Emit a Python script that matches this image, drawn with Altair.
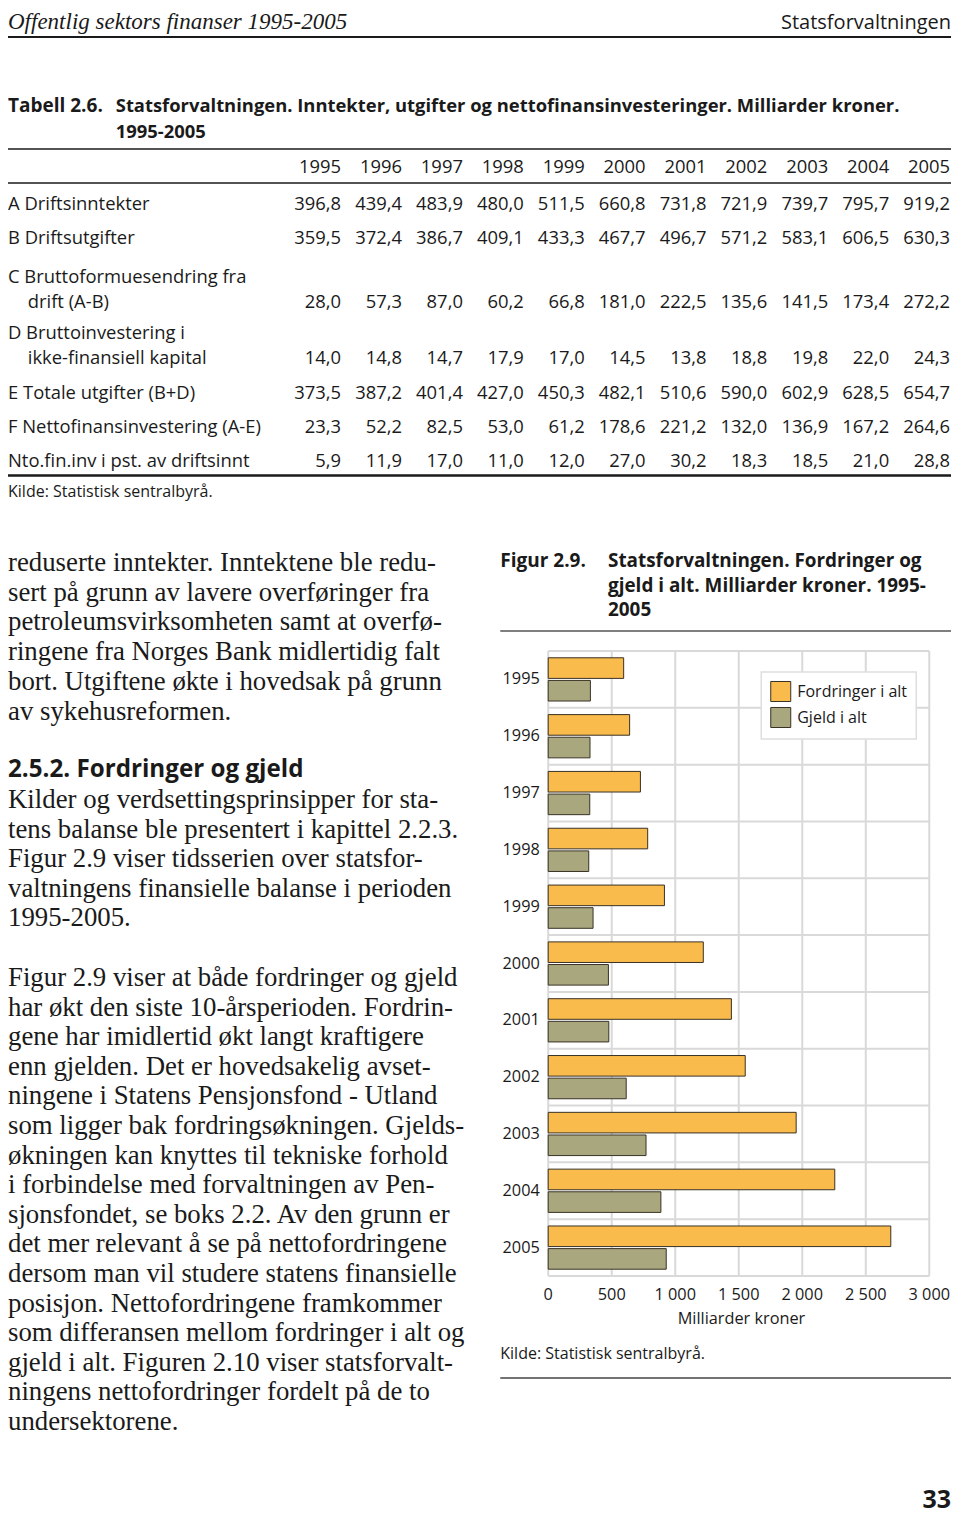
import altair as alt
import pandas as pd

# ---------------- data ----------------
years = [1995, 1996, 1997, 1998, 1999, 2000, 2001, 2002, 2003, 2004, 2005]
year_labels = [str(y) for y in years]

# Tabell 2.6 (milliarder kroner)
row_A = [396.8, 439.4, 483.9, 480.0, 511.5, 660.8, 731.8, 721.9, 739.7, 795.7, 919.2]
row_B = [359.5, 372.4, 386.7, 409.1, 433.3, 467.7, 496.7, 571.2, 583.1, 606.5, 630.3]
row_C = [28.0, 57.3, 87.0, 60.2, 66.8, 181.0, 222.5, 135.6, 141.5, 173.4, 272.2]
row_D = [14.0, 14.8, 14.7, 17.9, 17.0, 14.5, 13.8, 18.8, 19.8, 22.0, 24.3]
row_E = [373.5, 387.2, 401.4, 427.0, 450.3, 482.1, 510.6, 590.0, 602.9, 628.5, 654.7]
row_F = [23.3, 52.2, 82.5, 53.0, 61.2, 178.6, 221.2, 132.0, 136.9, 167.2, 264.6]
row_pct = [5.9, 11.9, 17.0, 11.0, 12.0, 27.0, 30.2, 18.3, 18.5, 21.0, 28.8]

# Figur 2.9 (milliarder kroner)
series_names = ["Fordringer i alt", "Gjeld i alt"]
fordringer = [594, 641, 726, 783, 915, 1221, 1442, 1551, 1952, 2256, 2697]
gjeld = [332, 329, 327, 319, 353, 474, 477, 614, 770, 887, 929]
x_ticks = [0, 500, 1000, 1500, 2000, 2500, 3000]
x_tick_labels = ["0", "500", "1 000", "1 500", "2 000", "2 500", "3 000"]

para1 = [
    "reduserte inntekter. Inntektene ble redu-",
    "sert på grunn av lavere overføringer fra",
    "petroleumsvirksomheten samt at overfø-",
    "ringene fra Norges Bank midlertidig falt",
    "bort. Utgiftene økte i hovedsak på grunn",
    "av sykehusreformen.",
]
para2 = [
    "Kilder og verdsettingsprinsipper for sta-",
    "tens balanse ble presentert i kapittel 2.2.3.",
    "Figur 2.9 viser tidsserien over statsfor-",
    "valtningens finansielle balanse i perioden",
    "1995-2005.",
]
para3 = [
    "Figur 2.9 viser at både fordringer og gjeld",
    "har økt den siste 10-årsperioden. Fordrin-",
    "gene har imidlertid økt langt kraftigere",
    "enn gjelden. Det er hovedsakelig avset-",
    "ningene i Statens Pensjonsfond - Utland",
    "som ligger bak fordringsøkningen. Gjelds-",
    "økningen kan knyttes til tekniske forhold",
    "i forbindelse med forvaltningen av Pen-",
    "sjonsfondet, se boks 2.2. Av den grunn er",
    "det mer relevant å se på nettofordringene",
    "dersom man vil studere statens finansielle",
    "posisjon. Nettofordringene framkommer",
    "som differansen mellom fordringer i alt og",
    "gjeld i alt. Figuren 2.10 viser statsforvalt-",
    "ningens nettofordringer fordelt på de to",
    "undersektorene.",
]
fig_title = [
    "Statsforvaltningen. Fordringer og",
    "gjeld i alt. Milliarder kroner. 1995-",
    "2005",
]

# ---------------- layout helpers ----------------
SANS = "Open Sans"
SERIF = "Liberation Serif"
INK = "#1a1a1a"
W, H = 944, 1508
KX = 0.9885  # horizontal page -> chart compression (page content is 954 px wide)


def X(rx):
    return (rx - 3) * KX


def Y(ry):
    return ry - 8


ONE = pd.DataFrame({"k": [0]})


def txt(s, x, y, size, font=SANS, weight="normal", style="normal",
        align="left", color=INK):
    return alt.Chart(pd.DataFrame({"t": [s]})).mark_text(
        align=align, baseline="middle", font=font, fontSize=size,
        fontWeight=weight, fontStyle=style, color=color
    ).encode(x=alt.value(X(x)), y=alt.value(Y(y)), text="t:N")


def hline(x1, x2, y, width, color=INK):
    return alt.Chart(ONE).mark_rule(color=color, strokeWidth=width).encode(
        x=alt.value(X(x1)), x2=alt.value(X(x2)), y=alt.value(Y(y))
    )


def para(lines, x, y0, lh, size, font=SERIF, weight="normal"):
    df = pd.DataFrame({"i": list(range(len(lines))), "line": lines})
    return alt.Chart(df).mark_text(
        align="left", baseline="middle", font=font, fontSize=size,
        fontWeight=weight, color=INK
    ).encode(
        x=alt.value(X(x)),
        y=alt.Y("i:Q", axis=None,
                scale=alt.Scale(domain=[0, 1], range=[Y(y0), Y(y0 + lh)],
                                nice=False, zero=False)),
        text="line:N",
    )


layers = []

# ---------------- page header ----------------
layers.append(txt("Offentlig sektors finanser 1995-2005", 3, 21.5, 23,
                  font=SERIF, style="italic"))
layers.append(txt("Statsforvaltningen", 957, 23, 20, align="right"))
layers.append(hline(3, 957, 37, 2.2))

# ---------------- table 2.6 ----------------
layers.append(txt("Tabell 2.6.", 3, 106, 19, weight="bold"))
layers.append(txt("Statsforvaltningen. Inntekter, utgifter og nettofinansinvesteringer. Milliarder kroner.",
                  112, 106, 18.4, weight="bold"))
layers.append(txt("1995-2005", 112, 132, 18.4, weight="bold"))
layers.append(hline(3, 957, 149, 1.6))
layers.append(hline(3, 957, 183, 1.6))
layers.append(hline(3, 957, 475.5, 2.4))

col_scale = alt.Scale(type="point", domain=year_labels, range=[X(340), X(956)], padding=0)
TSIZE = 18.4


def table_row(values, y, is_header=False):
    if is_header:
        df = pd.DataFrame({"year": year_labels, "s": year_labels})
    else:
        df = pd.DataFrame({"year": year_labels,
                           "s": [f"{v:.1f}".replace(".", ",") for v in values]})
    return alt.Chart(df).mark_text(
        align="right", baseline="middle", font=SANS, fontSize=TSIZE,
        color=INK
    ).encode(
        x=alt.X("year:O", scale=col_scale, axis=None),
        y=alt.value(Y(y)),
        text="s:N",
    )


layers.append(table_row(None, 167, is_header=True))
rows = [
    (["A Driftsinntekter"], row_A, [204]),
    (["B Driftsutgifter"], row_B, [238]),
    (["C Bruttoformuesendring fra", "   drift (A-B)"], row_C, [277, 302]),
    (["D Bruttoinvestering i", "   ikke-finansiell kapital"], row_D, [333, 358]),
    (["E Totale utgifter (B+D)"], row_E, [393]),
    (["F Nettofinansinvestering (A-E)"], row_F, [427]),
    (["Nto.fin.inv i pst. av driftsinnt"], row_pct, [461]),
]
for labels, vals, ys_ in rows:
    for lab, yy in zip(labels, ys_):
        if lab.startswith("   "):
            layers.append(txt(lab.strip(), 23, yy, TSIZE))
        else:
            layers.append(txt(lab, 3, yy, TSIZE))
    layers.append(table_row(vals, ys_[-1]))

layers.append(txt("Kilde: Statistisk sentralbyrå.", 3, 492, 16))

# ---------------- body text ----------------
BODY = 26.8
layers.append(para(para1, 3, 563, 29.7, BODY))
layers.append(txt("2.5.2. Fordringer og gjeld", 3, 770, 24.2, weight="bold"))
layers.append(para(para2, 3, 800, 29.6, BODY))
layers.append(para(para3, 3, 978, 29.6, BODY))

# ---------------- figure 2.9 ----------------
layers.append(txt("Figur 2.9.", 501, 561, 19, weight="bold"))
layers.append(para(fig_title, 610, 561, 24.5, 18.9, font=SANS, weight="bold"))
layers.append(hline(501, 957, 631, 1.6, color="#555555"))

PX0, PX1 = 549.5, 935
PY0, PY1 = 651, 1276
xs = alt.Scale(domain=[0, 3000], range=[X(PX0), X(PX1)], nice=False, zero=True)
ys = alt.Scale(domain=year_labels, range=[Y(PY0), Y(PY1)], paddingInner=0, paddingOuter=0)
GRID = "#d9d9d9"

tick_df = pd.DataFrame({"tick": x_ticks, "lab": x_tick_labels})
year_df = pd.DataFrame({"year": year_labels})

# vertical gridlines (incl. frame)
layers.append(alt.Chart(tick_df).mark_rule(color=GRID, strokeWidth=2).encode(
    x=alt.X("tick:Q", scale=xs, axis=None),
    y=alt.value(Y(PY0)), y2=alt.value(Y(PY1)),
))
# horizontal gridlines at band edges
layers.append(alt.Chart(year_df).mark_rule(color=GRID, strokeWidth=2).encode(
    y=alt.Y("year:N", scale=ys, axis=None, bandPosition=0),
    x=alt.value(X(PX0)), x2=alt.value(X(PX1)),
))
layers.append(alt.Chart(year_df.tail(1)).mark_rule(color=GRID, strokeWidth=2).encode(
    y=alt.Y("year:N", scale=ys, axis=None, bandPosition=1),
    x=alt.value(X(PX0)), x2=alt.value(X(PX1)),
))

bars_df = pd.DataFrame({
    "year": year_labels * 2,
    "series": [series_names[0]] * len(years) + [series_names[1]] * len(years),
    "value": fordringer + gjeld,
})
layers.append(alt.Chart(bars_df).mark_bar(stroke="#3a3226", strokeWidth=1).encode(
    x=alt.X("value:Q", scale=xs, axis=None),
    y=alt.Y("year:N", scale=ys, axis=None),
    yOffset=alt.YOffset("series:N", scale=alt.Scale(domain=series_names,
                                                   paddingInner=0.09, paddingOuter=0.3)),
    color=alt.Color("series:N",
                    scale=alt.Scale(domain=series_names, range=["#F9BB4B", "#A9A77E"]),
                    legend=alt.Legend(
                        title=None, orient="none",
                        legendX=X(765), legendY=Y(672),
                        fillColor="white", strokeColor="#dedede",
                        padding=9, symbolType="square", symbolSize=400,
                        symbolStrokeColor="#3a3226", symbolStrokeWidth=1,
                        symbolOpacity=1, rowPadding=1, labelOffset=6,
                        labelFont=SANS, labelFontSize=16, labelColor=INK,
                        labelLimit=300,
                    )),
))

# year labels
layers.append(alt.Chart(year_df).mark_text(
    align="right", baseline="middle", font=SANS, fontSize=16.3, color=INK
).encode(
    y=alt.Y("year:N", scale=ys, axis=None, bandPosition=0.5),
    x=alt.value(X(541)),
    text="year:N",
))
# x tick labels
layers.append(alt.Chart(tick_df).mark_text(
    align="center", baseline="middle", font=SANS, fontSize=16.3, color=INK
).encode(
    x=alt.X("tick:Q", scale=xs, axis=None),
    y=alt.value(Y(1295)),
    text="lab:N",
))
layers.append(txt("Milliarder kroner", 745, 1319, 16.3, align="center"))
layers.append(txt("Kilde: Statistisk sentralbyrå.", 501, 1354, 16))
layers.append(hline(501, 957, 1378, 1.6, color="#444444"))

# page number
layers.append(txt("33", 957, 1500, 25, align="right", weight="bold"))

chart = alt.layer(*layers).resolve_scale(
    x="independent", y="independent", color="independent"
).properties(
    width=W, height=H, padding=0, background="white",
    autosize=alt.AutoSizeParams(type="none"),
).configure_view(stroke=None).configure_legend(strokeWidth=1.5)

chart.save("out.html", embed_options={"renderer": "svg", "actions": False})
